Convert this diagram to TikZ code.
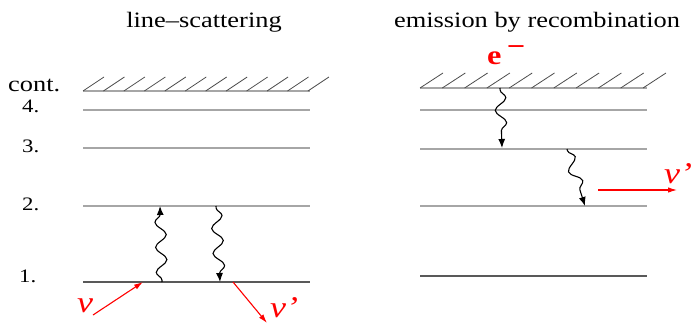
\documentclass[tikz,border=0pt]{standalone}
\usepackage{fontspec}
\setmainfont{Liberation Serif}
\usepackage{graphicx}
\usetikzlibrary{decorations.pathmorphing,arrows.meta}
\newcommand{\hstretch}[1]{\scalebox{1.2}[1]{#1}}
\begin{document}
\begin{tikzpicture}[x=1pt,y=-1pt,
  levelline/.style={draw=black!35, line width=1.6pt},
  groundline/.style={draw=black!65, line width=1.2pt},
  hatchline/.style={draw=black!70, line width=0.8pt},
  wavy/.style={draw=black, line width=1.1pt, decorate,
    decoration={snake, amplitude=5.5pt, segment length=25pt, pre length=2pt, post length=8pt},
    -{Latex[length=9pt,width=7pt]}},
  photon/.style={draw=red, line width=1.1pt, -{Latex[length=9pt,width=5.5pt]}},
  ttl/.style={inner sep=0pt, anchor=base, font=\fontsize{22}{22}\selectfont},
  numlbl/.style={inner sep=0pt, anchor=base west, font=\fontsize{19}{19}\selectfont},
  nulbl/.style={inner sep=0pt, anchor=base west, text=red, font=\fontsize{30}{30}\selectfont\itshape},
]
\useasboundingbox (0,0) rectangle (692,326);

% titles
\node[ttl] (t1) at (204,28) {\hstretch{line--scattering}};
\node[ttl] (t2) at (537,28) {\hstretch{emission by recombination}};

% level labels
\node[numlbl, font=\fontsize{22}{22}\selectfont] (lc) at (8,92) {\hstretch{cont.}};
\node[numlbl] (l4) at (22,113) {\hstretch{4.}};
\node[numlbl] (l3) at (22,152) {\hstretch{3.}};
\node[numlbl] (l2) at (22,210) {\hstretch{2.}};
\node[numlbl] (l1) at (19,282) {\hstretch{1.}};

% left panel levels
\draw[levelline] (83,91) -- (310,91);
\draw[levelline] (83,110) -- (310,110);
\draw[levelline] (83,148) -- (310,148);
\draw[levelline] (83,206) -- (310,206);
\draw[groundline] (83,282) -- (310,282);
\foreach \i in {0,...,11} {
  \draw[hatchline] (83+20.45*\i,91) -- (104+20.45*\i,77);
}

% right panel levels
\draw[levelline] (420,88) -- (647,88);
\draw[levelline] (420,110) -- (647,110);
\draw[levelline] (420,149) -- (647,149);
\draw[levelline] (420,206) -- (647,206);
\draw[groundline] (420,276) -- (647,276);
\foreach \i in {0,...,10} {
  \draw[hatchline] (420+22.3*\i,88) -- (443+22.3*\i,73);
}

% electron
\node[inner sep=0pt, anchor=base west, text=red, font=\fontsize{27}{27}\selectfont\bfseries] (el) at (487,65)
  {\hstretch{e\,\raisebox{0.36em}{−}}};

% connector end points
\coordinate (a1) at (162,282); \coordinate (a2) at (160,206);
\coordinate (b1) at (216,206); \coordinate (b2) at (220,282);
\coordinate (c1) at (500,88);  \coordinate (c2) at (502,148);
\coordinate (d1) at (567,149); \coordinate (d2) at (585,206);
\coordinate (p1) at (93,315);  \coordinate (p2) at (143,282);
\coordinate (q1) at (233,282); \coordinate (q2) at (267,323);
\coordinate (r1) at (598,190); \coordinate (r2) at (677,190);

% wavy transitions
\draw[wavy] (a1) -- (a2);
\draw[wavy] (b1) -- (b2);
\draw[wavy] (c1) -- (c2);
\draw[wavy] (d1) -- (d2);

% photons
\draw[photon] (p1) -- (p2);
\draw[photon] (q1) -- (q2);
\draw[photon] (r1) -- (r2);
\node[nulbl] (nu1) at (77,312) {\hstretch{ν}};
\node[nulbl] (nu2) at (270,317) {\hstretch{ν’}};
\node[nulbl] (nu3) at (664,183) {\hstretch{ν’}};
\end{tikzpicture}
\end{document}
